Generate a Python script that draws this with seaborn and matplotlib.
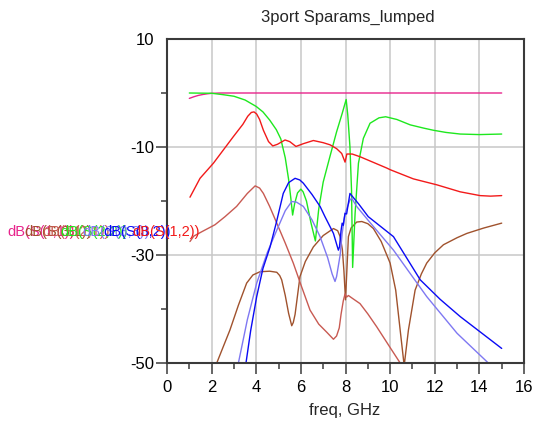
import numpy as np
import pandas as pd
import matplotlib
matplotlib.use("Agg")
import matplotlib.pyplot as plt
import seaborn as sns

# ---------------- data ----------------
title = "3port Sparams_lumped"
xlabel = "freq, GHz"
xticks = [0, 2, 4, 6, 8, 10, 12, 14, 16]
yticks = [10, -10, -30, -50]

pink_f = [1.0, 1.2, 1.4, 1.6, 1.8, 2.0, 2.4, 3.0, 15.0]
pink_db = [-1.0, -0.7, -0.45, -0.28, -0.15, -0.06, 0.0, 0.0, 0.0]

green_f = [1.0, 2.0, 2.5, 3.0, 3.5, 4.0, 4.3, 4.6, 4.9, 5.1, 5.3, 5.45, 5.55, 5.63,
           5.72, 5.85, 6.0, 6.1, 6.25, 6.45, 6.65, 6.8, 7.0, 7.3, 7.6, 7.85, 8.03,
           8.1, 8.2, 8.27, 8.32, 8.43, 8.58, 8.8, 9.1, 9.5, 9.8, 10.3, 10.9, 11.5,
           11.94, 12.5, 13.14, 14.0, 15.0]
green_db = [0.0, -0.05, -0.3, -0.6, -1.3, -2.5, -3.5, -5.0, -6.8, -8.5, -12.0, -16.0,
            -19.5, -22.6, -20.5, -18.5, -17.8, -18.3, -20.0, -24.0, -27.4, -21.5,
            -16.5, -11.8, -7.2, -3.8, -1.2, -4.0, -10.0, -18.0, -32.3, -22.3, -13.0,
            -8.4, -5.6, -4.6, -4.4, -4.9, -5.9, -6.5, -6.9, -7.3, -7.6, -7.7, -7.6]

red_f = [1.03, 1.48, 2.08, 2.97, 3.4, 3.62, 3.78, 3.9, 4.02, 4.15, 4.32, 4.55, 4.74,
         4.95, 5.29, 5.5, 5.78, 6.1, 6.56, 7.0, 7.31, 7.6, 7.83, 7.98, 8.06, 8.3,
         8.65, 9.85, 10.0, 11.04, 12.09, 13.14, 14.03, 14.5, 15.0]
red_db = [-19.3, -15.8, -13.0, -8.1, -5.8, -4.3, -3.6, -3.5, -3.9, -4.9, -6.9, -9.0,
          -9.8, -9.5, -8.7, -9.0, -9.9, -9.4, -8.8, -9.2, -9.6, -10.3, -11.2, -12.8,
          -11.3, -11.3, -11.8, -13.9, -14.2, -15.9, -17.0, -18.3, -19.0, -19.1,
          -19.0]

salmon_f = [1.03, 1.2, 1.6, 2.15, 2.6, 3.12, 3.6, 3.95, 4.15, 4.32, 4.6, 4.92, 5.3,
            5.66, 6.0, 6.41, 6.8, 7.16, 7.46, 7.6, 7.72, 7.8, 7.9, 7.98, 8.05, 8.13,
            8.3, 8.65, 9.0, 9.4, 9.9, 10.45, 10.6]
salmon_db = [-27.5, -26.5, -25.6, -24.4, -22.9, -21.0, -18.6, -17.2, -17.6, -18.6,
             -21.0, -24.1, -27.8, -31.5, -35.5, -40.2, -42.8, -44.3, -45.6, -45.0,
             -43.5, -41.0, -38.5, -37.2, -37.8, -37.5, -38.0, -39.0, -40.9, -43.3,
             -46.5, -50.0, -51.5]

brown_f = [2.23, 2.5, 2.82, 3.2, 3.57, 3.85, 4.17, 4.6, 4.92, 5.05, 5.14, 5.3, 5.45,
           5.59, 5.66, 5.74, 5.85, 5.96, 6.2, 6.56, 7.0, 7.46, 7.65, 7.76, 7.86,
           7.93, 8.0, 8.06, 8.13, 8.25, 8.5, 8.73, 9.0, 9.25, 9.6, 10.0, 10.25,
           10.45, 10.63, 10.82, 11.12, 11.4, 11.64, 12.0, 12.39, 13.0, 13.44,
           14.2, 15.0]
brown_db = [-50.0, -47.2, -43.9, -39.3, -35.2, -33.7, -33.1, -33.0, -33.2, -33.8,
            -34.6, -37.5, -40.8, -43.1, -42.5, -41.0, -37.5, -34.0, -31.2, -28.5,
            -26.4, -25.1, -25.5, -26.6, -29.0, -33.0, -38.3, -33.0, -26.6, -25.0,
            -23.9, -23.8, -24.2, -25.1, -27.5, -31.5, -36.5, -43.9, -50.5, -43.9,
            -36.5, -33.5, -31.5, -29.6, -28.1, -26.8, -26.0, -25.0, -24.1]

blue_f = [3.4, 3.54, 3.75, 4.02, 4.3, 4.62, 4.9, 5.21, 5.45, 5.74, 5.95, 6.11, 6.5,
          6.86, 7.08, 7.46, 7.68, 7.73, 7.8, 7.85, 7.9, 7.94, 7.98, 8.05, 8.2, 8.6,
          9.02, 10.15, 11.35, 12.24, 13.14, 15.0]
blue_db = [-53.0, -50.0, -44.0, -37.7, -32.5, -28.5, -24.0, -18.6, -16.6, -15.8,
           -16.1, -16.7, -18.8, -21.0, -22.9, -26.0, -29.1, -28.5, -25.5, -24.1,
           -24.5, -23.3, -22.3, -22.4, -18.6, -20.6, -22.9, -26.6, -34.6, -38.2,
           -41.4, -47.3]

lblue_f = [3.05, 3.2, 3.6, 4.02, 4.5, 4.92, 5.3, 5.59, 5.8, 6.11, 6.5, 6.86, 7.2, 7.4,
           7.53, 7.6, 7.76, 7.85, 7.98, 8.2, 8.28, 8.5, 9.0, 10.15, 11.64, 13.0,
           14.4, 14.6]
lblue_db = [-53.0, -50.0, -42.0, -35.2, -29.5, -25.4, -21.8, -20.1, -20.2, -21.0,
            -23.5, -26.6, -30.5, -33.5, -34.9, -34.0, -30.0, -26.0, -22.3, -19.8,
            -19.5, -21.0, -23.5, -29.1, -37.7, -44.5, -50.0, -51.0]

ylabels = ["dB(S(1,1))", "dB(S(3,1))", "dB(S(2,1))", "dB(S(2,2))",
           "dB(S(3,3))", "dB(S(3,2))", "dB(S(1,2))"]

# ---------------- styling ----------------
colors = {
    "pink": "#e8248c",
    "green": "#1ee81e",
    "red": "#f21a1a",
    "salmon": "#c85a52",
    "brown": "#a0522d",
    "blue": "#0a0af5",
    "lblue": "#7f78f2",
}
series = [
    ("pink", pink_f, pink_db),
    ("brown", brown_f, brown_db),
    ("salmon", salmon_f, salmon_db),
    ("green", green_f, green_db),
    ("lblue", lblue_f, lblue_db),
    ("blue", blue_f, blue_db),
    ("red", red_f, red_db),
]

sns.set_theme(style="white")
plt.rcParams["font.family"] = ["Liberation Sans", "DejaVu Sans"]

W, H = 534, 425
fig = plt.figure(figsize=(W / 100, H / 100), dpi=100)
L, R, T, B = 167, 524, 39, 363
ax = fig.add_axes([L / W, 1 - B / H, (R - L) / W, (B - T) / H])

for name, f, db in series:
    df = pd.DataFrame({"freq": f, "dB": db})
    sns.lineplot(data=df, x="freq", y="dB", ax=ax, color=colors[name],
                 linewidth=1.0, sort=False, estimator=None)

ax.set_xlim(0, 16)
ax.set_ylim(-50, 10)
ax.set_xticks(xticks)
ax.set_xticks(range(0, 17), minor=True)
ax.set_yticks(yticks)
ax.set_yticks([0, -20, -40], minor=True)
ax.set_xticklabels([str(t) for t in xticks])
ax.set_yticklabels([str(t) for t in yticks])
ax.set_xlabel("")
ax.set_ylabel("")

ax.grid(True, which="major", color="#c8c8c8", linewidth=1.1)
ax.set_axisbelow(True)
for s in ax.spines.values():
    s.set_color("#3a3a3a")
    s.set_linewidth(1.5)

ax.tick_params(axis="both", which="major", length=8, width=1.1, color="#3a3a3a",
               labelsize=12, labelcolor="black", direction="out",
               bottom=True, left=True)
ax.tick_params(axis="both", which="minor", length=4.5, width=1.1, color="#3a3a3a",
               direction="out", bottom=True, left=True)
ax.tick_params(axis="y", which="major", pad=1)
ax.tick_params(axis="x", which="major", pad=4)
ax.yaxis.get_major_ticks()[0].tick1line.set_visible(False)

fig.text(348 / W, 1 - 17 / H, title, ha="center", va="center", fontsize=12)
fig.text(345 / W, 1 - 411 / H, xlabel, ha="center", va="center", fontsize=12)

starts = [7, 24, 42, 60, 82, 103, 132]
for (name, _, _), lab, x0 in zip(series, ylabels, starts):
    fig.text(x0 / W, 1 - 232 / H, lab, ha="left", va="center", fontsize=10.5,
             color=colors[name])

fig.savefig("out.png", dpi=100)
